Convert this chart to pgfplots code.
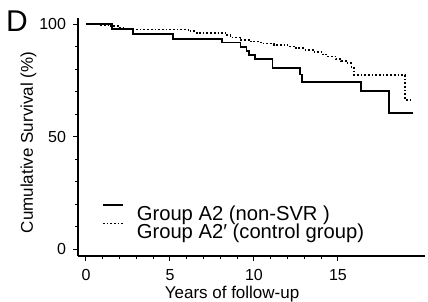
\documentclass[border=0pt]{standalone}
\usepackage{fontspec}
\setmainfont{Liberation Sans}
\usepackage{pgfplots}
\pgfplotsset{compat=1.18}
\begin{document}
\begin{tikzpicture}
\useasboundingbox (-78bp,-46bp) rectangle (350bp,256bp);
\begin{axis}[
 at={(0,0)}, anchor=south west,
 width=347bp, height=238bp, scale only axis,
 xmin=-0.476, xmax=20.18, ymin=-3.11, ymax=102.67,
 axis lines=left, axis line style={-, line width=1.3bp},
 xtick={0,5,10,15}, ytick={0,50,100},
 minor x tick num=4, minor y tick num=4,
 tick align=outside, major tick length=4.5bp, minor tick length=2.5bp,
 tick style={line width=1bp, black},
 /pgf/number format/assume math mode=true,
 tick label style={font=\fontsize{16bp}{19bp}\selectfont},
 x tick label style={yshift=-5bp},
 y tick label style={xshift=-4bp},
 xlabel={Years of follow-up}, ylabel={Cumulative Survival (\%)},
 label style={font=\fontsize{17bp}{20bp}\selectfont},
 x label style={at={([yshift=-42bp]axis description cs:0.444,0)}, anchor=base},
 y label style={at={([xshift=-45bp]axis description cs:0,0.477)}, anchor=base},
 legend cell align=left,
 legend image code/.code={\path[draw=none] (0bp,-9bp) -- (34bp,9bp); \draw[#1] (0bp,8.5bp) -- (20bp,8.5bp);},
 legend style={at={(axis description cs:0.069,0.218)}, anchor=north west, draw=none, fill=none,
   inner sep=0pt, outer sep=0pt, row sep=0pt,
   nodes={inner sep=0pt, outer sep=0pt},
   font=\fontsize{20.2bp}{23bp}\selectfont},
]
\addplot[const plot, black, line width=1.8bp] coordinates {
(0,100) (1.55,97.8) (2.8,95.6) (5.2,93.4) (8.1,91.8) (9.2,89.9) (9.55,88.0) (9.7,86.2)
(10.06,84.3) (11.1,80.3) (12.75,77.6) (12.85,74.4) (16.35,70.4) (18.05,60.3) (19.46,60.3)};
\addlegendentry{Group A2 (non-SVR )}
\addplot[const plot, black, line width=1.7bp, dash pattern=on 1.7bp off 2bp] coordinates {
(0,100) (0.8,99.7) (1.5,99.0) (1.9,98.2) (2.4,97.6) (6.1,96.8) (6.6,96.0) (8.3,95.0)
(8.6,94.0) (9.2,93.0) (9.8,92.2) (10.4,91.3) (11.2,90.8) (12.0,90.0) (12.5,89.2)
(13.0,88.6) (13.6,87.6) (14.1,86.4) (14.4,85.5) (14.9,84.3) (15.2,83.5) (15.5,82.6)
(15.8,81.0) (15.95,77.3) (19.0,66.2) (19.4,66.2)};
\addlegendentry{Group A2′ (control group)}
\end{axis}
\node[anchor=base west, inner sep=0pt, font=\fontsize{30bp}{32bp}\selectfont] at (-72bp,224bp) {D};
\end{tikzpicture}
\end{document}
